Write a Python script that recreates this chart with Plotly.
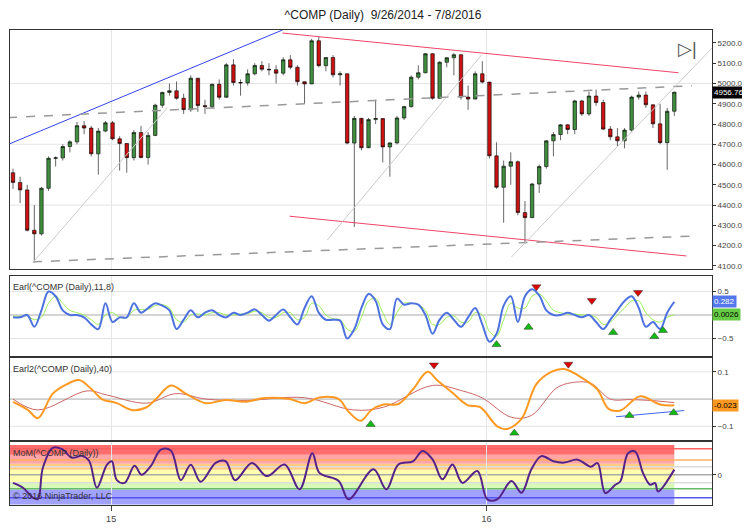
"""
^COMP daily chart with three indicator panels (Earl, Earl2, MoM), weekly candles.
"""

import plotly.graph_objects as go
from plotly.subplots import make_subplots

# ---- price data (one candle per week, x = week number from 9/26/2014)
closes = [4512, 4475, 4276, 4258, 4483, 4631, 4633, 4689, 4712, 4792, 4780, 4653, 4765, 4806, 4727,
          4704, 4634, 4758, 4635, 4744, 4893, 4956, 4964, 4927, 4871, 5026, 4891, 4886, 4996, 4932,
          5092, 5005, 5003, 5048, 5089, 5070, 5068, 5051, 5117, 5080, 5009, 4998, 5211, 5088, 5128,
          5043, 5048, 4706, 4828, 4683, 4822, 4827, 4687, 4707, 4830, 4886, 5031, 5053, 5147, 4927,
          5105, 5127, 5142, 4933, 4923, 5048, 5007,
          4643, 4488, 4592, 4614, 4363, 4338, 4504, 4590, 4717, 4748, 4796, 4773, 4914, 4850, 4938,
          4906, 4775, 4737, 4717, 4770, 4933, 4943, 4895, 4801, 4708, 4863, 4957]
highs = [4580, 4540, 4500, 4400, 4490, 4640, 4640, 4700, 4720, 4810, 4815, 4790, 4780, 4815, 4815,
         4740, 4700, 4770, 4790, 4760, 4900, 4960, 5000, 5010, 4950, 5040, 5010, 4920, 5000, 5020,
         5100, 5120, 5020, 5070, 5100, 5110, 5100, 5090, 5130, 5140, 5090, 5010, 5220, 5230, 5130,
         5140, 5060, 5050, 4840, 4800, 4830, 4920, 4820, 4710, 4840, 4890, 5040, 5090, 5150, 5150,
         5110, 5130, 5150, 5140, 4990, 5060, 5110,
         4990, 4710, 4620, 4660, 4620, 4420, 4510, 4600, 4720, 4760, 4800, 4800, 4920, 4920, 4960,
         4970, 4920, 4790, 4780, 4780, 4940, 4960, 4960, 4890, 4900, 4880, 4960]
lows = [4480, 4410, 4270, 4117, 4250, 4470, 4590, 4620, 4660, 4700, 4750, 4640, 4550, 4760, 4720,
        4570, 4560, 4620, 4630, 4600, 4740, 4880, 4940, 4920, 4850, 4860, 4860, 4850, 4880, 4920,
        4940, 4990, 4940, 4990, 5040, 5060, 5040, 5000, 5040, 5070, 4990, 4900, 5000, 5080, 5060,
        5030, 4990, 4700, 4292, 4670, 4690, 4800, 4610, 4540, 4700, 4820, 4880, 5020, 5050, 4920,
        4930, 5080, 5040, 4920, 4870, 4930, 5000,
        4630, 4480, 4313, 4500, 4350, 4210, 4340, 4460, 4580, 4640, 4720, 4750, 4750, 4840, 4840,
        4890, 4770, 4720, 4690, 4680, 4760, 4920, 4880, 4780, 4700, 4574, 4840]
first_open = 4560
opens = [first_open] + closes[:-1]
weeks = list(range(len(closes)))

# ---- Earl (11,8): blue line and green signal, weekly
earl = [-0.05, -0.05, 0.0, -0.25, 0.1, 0.5, 0.4, 0.1, 0.0, 0.0, -0.05, -0.2, -0.3, 0.25, -0.15,
        -0.05, -0.05, 0.25, 0.05, 0.15, 0.25, 0.2, 0.1, -0.3, -0.1, 0.1, -0.05, 0.05, 0.1, 0.0,
        -0.05, 0.05, 0.0, 0.05, 0.12, 0.0, -0.12, 0.0, 0.12, -0.05, -0.2, 0.15, 0.4, 0.05, -0.1,
        -0.1, -0.12, -0.5, -0.3, 0.15, 0.45, 0.3, -0.2, -0.3, 0.35, 0.22, 0.25, 0.22, 0.0, -0.4,
        -0.1, 0.05, -0.1, -0.25, -0.05, 0.15, -0.2, -0.57, -0.4, 0.2, 0.4, -0.15, 0.4, 0.55, 0.42,
        0.1, 0.0, 0.0, 0.05, 0.0, -0.05, 0.0, -0.15, -0.3, -0.1, 0.1, 0.3, 0.4, 0.15, -0.25,
        -0.15, -0.3, 0.05, 0.282]
earl_sig = [-0.02, -0.03, -0.02, -0.1, -0.05, 0.25, 0.4, 0.25, 0.1, 0.05, 0.0, -0.1, -0.2, 0.0, 0.05,
            -0.05, -0.05, 0.1, 0.12, 0.12, 0.2, 0.22, 0.15, -0.1, -0.15, 0.0, 0.02, 0.0, 0.05, 0.05,
            0.0, 0.0, 0.02, 0.03, 0.08, 0.05, -0.05, -0.05, 0.05, 0.05, -0.1, -0.05, 0.25, 0.2, 0.0,
            -0.08, -0.1, -0.3, -0.35, -0.05, 0.3, 0.35, 0.05, -0.2, 0.05, 0.25, 0.25, 0.22, 0.1, -0.2,
            -0.2, -0.05, -0.02, -0.15, -0.15, 0.05, 0.0, -0.35, -0.45, -0.1, 0.25, 0.15, 0.15, 0.4, 0.45,
            0.3, 0.1, 0.05, 0.02, 0.02, 0.0, 0.0, -0.05, -0.2, -0.15, 0.0, 0.15, 0.3, 0.3, 0.05,
            -0.1, -0.15, -0.05, 0.0026]

# ---- Earl2 (40): orange line and thin red average, sampled at week positions
earl2_x = [0, 2.1, 3.5, 5.6, 7.6, 9.3, 11.1, 12.5, 14.6, 16.7, 18.8, 20.1, 22.2, 24.3, 27.1,
           29.9, 32.6, 35.4, 38.9, 41, 43.1, 45.8, 47.2, 48.9, 50.4, 52.1, 54.2, 56.25, 58.3, 59.7,
           61.8, 63.9, 65.7, 68.1, 69.4, 71.5, 73.6, 75.7, 77.5, 80.3, 82.2, 83.75, 85.4, 88.2, 91,
           93]
earl2 = [-0.01, -0.04, -0.07, 0.02, 0.055, 0.07, 0.035, 0.0, -0.015, -0.04, -0.03, 0.0, 0.05, 0.02,
         -0.015, -0.003, -0.01, 0.004, 0.0, -0.015, 0.006, 0.0, -0.047, -0.08, -0.04, -0.02, -0.018,
         0.036, 0.1, 0.068, 0.023, -0.022, -0.03, -0.1, -0.11, -0.073, 0.055, 0.1, 0.11, 0.073,
         0.035, -0.036, -0.042, 0.01, -0.02, -0.023]
earl2_avg_x = [0, 3.5, 10.4, 13.2, 18.8, 22.9, 27.1, 32.6, 41, 47.9, 52.1, 59, 63.2, 66, 70.1,
               72.9, 76.4, 78.5, 81.25, 84, 86.8, 89.6, 93]
earl2_avg = [0.0, -0.04, 0.03, 0.015, -0.015, 0.02, 0.0, -0.005, 0.005, -0.04, -0.03, 0.05, 0.03,
             0.004, -0.067, -0.06, 0.04, 0.06, 0.058, 0.0, -0.002, -0.005, -0.013]

# ---- MoM, sampled at week positions
mom_x = [0, 1.4, 2.8, 3.5, 4.2, 5.6, 6.9, 8.3, 9.7, 10.7, 11.8, 13.2, 13.9, 14.6, 15.7, 17.1,
         18.1, 19.4, 20.8, 22.2, 23.6, 25, 26.4, 28.5, 29.9, 31.25, 33.6, 35.7, 38.2, 40.3, 42.1,
         43.1, 45.8, 47.2, 50.7, 52.5, 54.2, 56.25, 57.6, 59, 60.4, 61.8, 63.2, 65.3, 66.7, 68.1,
         70.1, 71.5, 72.9, 74.3, 76, 77.5, 79.4, 81.25, 82.2, 83.3, 84.7, 85.4, 86.5, 87.5, 88.6,
         89.6, 90.3, 90.7, 93]
mom = [-0.3, -0.48, -0.85, -0.9, 0.26, 1.0, 0.95, 0.63, 0.7, 0.52, -0.48, 0.37, 0.5, -0.2, -0.3,
       0.33, 0.0, 0.33, 0.93, 0.9, -0.2, 0.37, -0.26, 0.44, 0.5, -0.2, 0.44, -0.05, 0.38, -0.54,
       0.8, 0.07, -0.23, -0.91, 0.2, -0.54, 0.38, 0.5, 0.88, 0.57, -0.17, 0.38, -0.3, 0.14, -0.91,
       -0.91, -0.23, -0.67, 0.2, 0.69, 0.5, 0.45, 0.56, 0.3, 0.43, -0.68, -0.37, -0.25, 0.8, 0.86,
       0.06, -0.37, -0.31, -0.62, 0.19]
# MoM zones (low, high, fill colour)
mom_zones = [(-1.1, -0.55, "rgba(110,110,255,0.65)"), (-0.52, -0.3, "rgba(215,250,185,1)"),
             (-0.3, 0.19, "rgba(255,255,175,1)"), (0.19, 0.41, "rgba(255,205,130,1)"),
             (0.41, 0.74, "rgba(255,165,165,1)"), (0.74, 1.1, "rgba(255,110,110,1)")]
mom_levels = [(0.96, "#ff6060"), (0.55, "#ffb060"), (0.3, "#dddddd"), (0.0, "#aaaaaa"),
              (-0.3, "#dddddd"), (-0.52, "#66bb66"), (-0.85, "#5555ee")]

# ---- signal markers
earl_tops = ([73.6, 81.4, 87.9], [0.6, 0.31, 0.48])
earl_bots = ([68, 72.5, 84.4, 90.2, 91.4], [-0.63, -0.26, -0.37, -0.46, -0.33])
earl2_tops = ([59.2, 78.1], [0.125, 0.128])
earl2_bots = ([50.3, 70.5, 86.7, 92.9], [-0.093, -0.125, -0.06, -0.05])

# ---- drawn trend lines on price chart (x0, y0, x1, y1, colour, dash, width)
trend_lines = [(-0.7, 4699, 37.9, 5264, "#3344ee", "solid", 1),
               (37.9, 5249, 93.6, 5053, "#ee4466", "solid", 1),
               (38.9, 4345, 94.7, 4149, "#ee4466", "solid", 1),
               (-0.7, 4832, 95.5, 4989, "#999999", "dash", 1.5),
               (2.8, 4120, 95.5, 4247, "#999999", "dash", 1.5),
               (2.8, 4117, 21.7, 4880, "#cccccc", "solid", 1),
               (44.2, 4228, 65.9, 5141, "#cccccc", "solid", 1),
               (70.1, 4144, 98.3, 5175, "#cccccc", "solid", 1)]
earl2_trend = (84.8, -0.065, 94.4, -0.042)

XR = [-0.42, 98.3]
AX = "#333333"

fig = make_subplots(rows=4, cols=1, shared_xaxes=True, vertical_spacing=0)

fig.add_trace(go.Candlestick(x=weeks, open=opens, high=highs, low=lows, close=closes,
                             increasing=dict(line=dict(color="#000000", width=0.6), fillcolor="#3f8f3f"),
                             decreasing=dict(line=dict(color="#000000", width=0.6), fillcolor="#cc1111"),
                             whiskerwidth=0, showlegend=False), row=1, col=1)

for x0, y0, x1, y1, col, dash, w in trend_lines:
    fig.add_trace(go.Scatter(x=[x0, x1], y=[y0, y1], mode="lines", showlegend=False,
                             line=dict(color=col, dash=dash, width=w), hoverinfo="skip"), row=1, col=1)

fig.add_trace(go.Scatter(x=weeks, y=earl_sig, mode="lines", line=dict(color="#99ee55", width=1, shape="spline"),
                         showlegend=False), row=2, col=1)
fig.add_trace(go.Scatter(x=weeks, y=earl, mode="lines", line=dict(color="#4d72e0", width=2, shape="spline"),
                         showlegend=False), row=2, col=1)
fig.add_trace(go.Scatter(x=earl_tops[0], y=earl_tops[1], mode="markers", showlegend=False,
                         marker=dict(symbol="triangle-down", size=8, color="#dd0000",
                                     line=dict(color="#333", width=0.5))), row=2, col=1)
fig.add_trace(go.Scatter(x=earl_bots[0], y=earl_bots[1], mode="markers", showlegend=False,
                         marker=dict(symbol="triangle-up", size=8, color="#11bb11",
                                     line=dict(color="#333", width=0.5))), row=2, col=1)

fig.add_trace(go.Scatter(x=earl2_avg_x, y=earl2_avg, mode="lines",
                         line=dict(color="#cc6666", width=1, shape="spline"), showlegend=False), row=3, col=1)
fig.add_trace(go.Scatter(x=earl2_x, y=earl2, mode="lines",
                         line=dict(color="#ff9922", width=2, shape="spline"), showlegend=False), row=3, col=1)
fig.add_trace(go.Scatter(x=[earl2_trend[0], earl2_trend[2]], y=[earl2_trend[1], earl2_trend[3]], mode="lines",
                         line=dict(color="#4466ee", width=1), showlegend=False), row=3, col=1)
fig.add_trace(go.Scatter(x=earl2_tops[0], y=earl2_tops[1], mode="markers", showlegend=False,
                         marker=dict(symbol="triangle-down", size=8, color="#dd0000",
                                     line=dict(color="#333", width=0.5))), row=3, col=1)
fig.add_trace(go.Scatter(x=earl2_bots[0], y=earl2_bots[1], mode="markers", showlegend=False,
                         marker=dict(symbol="triangle-up", size=8, color="#11bb11",
                                     line=dict(color="#333", width=0.5))), row=3, col=1)

# MoM zones and level lines
for lo, hi, col in mom_zones:
    fig.add_shape(type="rect", x0=XR[0], x1=weeks[-1], y0=lo, y1=hi, fillcolor=col, line_width=0,
                  layer="below", xref="x4", yref="y4")
for lvl, col in mom_levels:
    fig.add_shape(type="line", x0=XR[0], x1=XR[1], y0=lvl, y1=lvl, line=dict(color=col, width=1.5),
                  layer="below", xref="x4", yref="y4")
fig.add_trace(go.Scatter(x=mom_x, y=mom, mode="lines", line=dict(color="#552288", width=2, shape="spline"),
                         showlegend=False), row=4, col=1)

# reference lines in indicator panels
for yref, lvls in (("y2", [(0.5, "#e4e4e4"), (0, "#aaaaaa"), (-0.5, "#e4e4e4")]),
                   ("y3", [(0.1, "#e4e4e4"), (0, "#aaaaaa"), (-0.1, "#e4e4e4")]),
                   ("y", [(4400, "#e4e4e4"), (4700, "#e4e4e4"), (5000, "#e4e4e4")])):
    for lvl, col in lvls:
        fig.add_shape(type="line", x0=XR[0], x1=XR[1], y0=lvl, y1=lvl, line=dict(color=col, width=1),
                      layer="below", xref="x", yref=yref)

domains = [[0.497, 1.0], [0.314, 0.482], [0.137, 0.309], [0.0, 0.133]]
yranges = [[4085, 5264], [-0.87, 0.83], [-0.15, 0.15], [-1.12, 1.22]]
for i in range(4):
    fig.update_yaxes(row=i + 1, col=1, domain=domains[i], range=yranges[i], side="right",
                     showgrid=False, zeroline=False, showline=True, mirror=True, linecolor=AX,
                     ticks="outside", ticklen=3, tickcolor=AX, tickfont=dict(size=8, color="#444"))
    fig.update_xaxes(row=i + 1, col=1, range=XR, showline=True, mirror=True, linecolor=AX,
                     showgrid=True, gridcolor="#e6e6e6", tickvals=[13.8, 66.6], ticktext=["15", "16"],
                     zeroline=False, rangeslider_visible=False, showticklabels=(i == 3),
                     ticks="outside" if i == 3 else "", tickfont=dict(size=9, color="#444"))
fig.update_yaxes(row=1, col=1, tickvals=list(range(4100, 5201, 100)), tickformat=".2f")
fig.update_yaxes(row=2, col=1, tickvals=[0.5, -0.5])
fig.update_yaxes(row=3, col=1, tickvals=[0.1, -0.1])
fig.update_yaxes(row=4, col=1, tickvals=[0])

labels = [("y", closes[-1], "4956.76", "#000000", "white"),
          ("y2", 0.282, "0.282", "#5577ee", "white"),
          ("y2", 0.0026, "0.0026", "#66cc44", "black"),
          ("y3", -0.023, "-0.023", "#ff9922", "black")]
anns = []
for yr, yv, txt, bg, fg in labels:
    anns.append(dict(xref="paper", x=1.0, xanchor="left", yref=yr, y=yv, text=txt, showarrow=False,
                     bgcolor=bg, font=dict(size=8, color=fg), borderpad=1))
for dom, txt in ((domains[1], "Earl(^COMP (Daily),11,8)"), (domains[2], "Earl2(^COMP (Daily),40)"),
                 (domains[3], "MoM(^COMP (Daily))")):
    anns.append(dict(xref="paper", yref="paper", x=0.002, y=dom[1] - 0.008, xanchor="left", yanchor="top",
                     text=txt, showarrow=False, font=dict(size=9, color="#333")))
anns.append(dict(xref="paper", yref="paper", x=0.002, y=0.005, xanchor="left", yanchor="bottom",
                 text="© 2016 NinjaTrader, LLC", showarrow=False, font=dict(size=9, color="#333")))
anns.append(dict(xref="paper", yref="paper", x=0.965, y=0.985, xanchor="center", yanchor="top",
                 text="▷|", showarrow=False, font=dict(size=18, color="#555")))

fig.update_layout(width=750, height=531, paper_bgcolor="white", plot_bgcolor="white",
                  margin=dict(l=2, r=46, t=22, b=34), showlegend=False,
                  font=dict(family="Liberation Sans, Arial", size=10, color="#333"),
                  title=dict(text="^COMP (Daily)  9/26/2014 - 7/8/2016", x=0.5, xanchor="center",
                             y=0.995, yanchor="top", font=dict(size=12, color="#222")),
                  annotations=anns, hovermode=False)

fig.write_html("out.html")
